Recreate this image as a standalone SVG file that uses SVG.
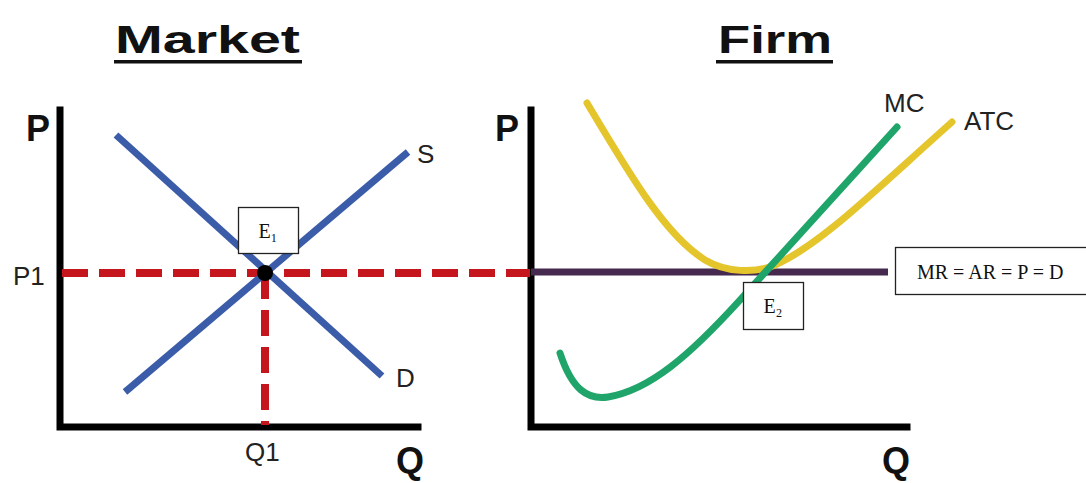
<svg xmlns="http://www.w3.org/2000/svg" width="1086" height="483" viewBox="0 0 1086 483">
<style>
.title{font-family:"Liberation Sans",Arial,sans-serif;font-weight:bold;font-size:39px;fill:#111}
.axislbl{font-family:"Liberation Sans",Arial,sans-serif;font-weight:bold;font-size:36px;fill:#111}
.lbl{font-family:"Liberation Sans",Arial,sans-serif;font-size:26px;fill:#222}
.box{fill:#fff;stroke:#222;stroke-width:1.3}
.boxtxt{font-family:"Liberation Serif","DejaVu Serif",serif;font-size:20px;fill:#111}
.axis{stroke:#000;stroke-width:7;fill:none;stroke-linecap:square}
.blue{stroke:#3b5ca8;stroke-width:7;fill:none}
.dash{stroke:#c5161d;stroke-width:8;fill:none;stroke-dasharray:26 11}
</style>
<rect width="1086" height="483" fill="#fff"/>

<g id="titles">
<text class="title" x="115" y="53" textLength="185" lengthAdjust="spacingAndGlyphs">Market</text>
<rect x="114" y="60" width="188" height="3.5" fill="#111"/>
<text class="title" x="718" y="53" textLength="114" lengthAdjust="spacingAndGlyphs">Firm</text>
<rect x="716" y="60" width="117" height="3.5" fill="#111"/>
</g>

<g id="market-axes">
<path class="axis" d="M60,110 L60,427 L418,427"/>
<text class="axislbl" x="26" y="141">P</text>
<text class="axislbl" x="396" y="473">Q</text>
<text class="lbl" x="13" y="285">P1</text>
<text class="lbl" x="245" y="461">Q1</text>
</g>

<g id="firm-axes">
<path class="axis" d="M531,110 L531,427 L907,427"/>
<text class="axislbl" x="495" y="141">P</text>
<text class="axislbl" x="882" y="473">Q</text>
</g>

<g id="connectors">
<line class="dash" x1="62" y1="273" x2="530" y2="273"/>
<line class="dash" x1="265" y1="273" x2="265" y2="425"/>
<line x1="531" y1="272" x2="888" y2="272" stroke="#45294f" stroke-width="7"/>
<line class="blue" x1="116" y1="135" x2="382" y2="376"/>
<line class="blue" x1="125" y1="392" x2="408" y2="152"/>
<path d="M587,103 C630,175 665,235 705,260 C725,272 755,274 775,265 C820,245 870,195 952,122" stroke="#e5c52c" stroke-width="7" fill="none" stroke-linecap="round"/>
<path d="M560,353 C572,390 588,400 608,397 C650,390 690,355 740,300 L897,127" stroke="#1fa56a" stroke-width="7" fill="none" stroke-linecap="round" stroke-linejoin="round"/>
<circle cx="265" cy="273" r="8" fill="#000"/>
</g>

<g id="curve-labels">
<text class="lbl" x="417" y="163">S</text>
<text class="lbl" x="396" y="387">D</text>
<text class="lbl" x="884" y="112" font-size="28">MC</text>
<text class="lbl" x="964" y="130" font-size="28">ATC</text>
</g>

<g id="E1">
<rect class="box" x="238.5" y="207.5" width="60" height="46"/>
<text class="boxtxt" x="268" y="238" text-anchor="middle">E₁</text>
</g>

<g id="E2">
<rect class="box" x="743.5" y="282.5" width="60" height="47"/>
<text class="boxtxt" x="773" y="313" text-anchor="middle" font-size="18">E₂</text>
</g>

<g id="MR">
<rect class="box" x="895.5" y="247.5" width="200" height="47"/>
<text class="boxtxt" x="917" y="279">MR = AR = P = D</text>
</g>
</svg>
